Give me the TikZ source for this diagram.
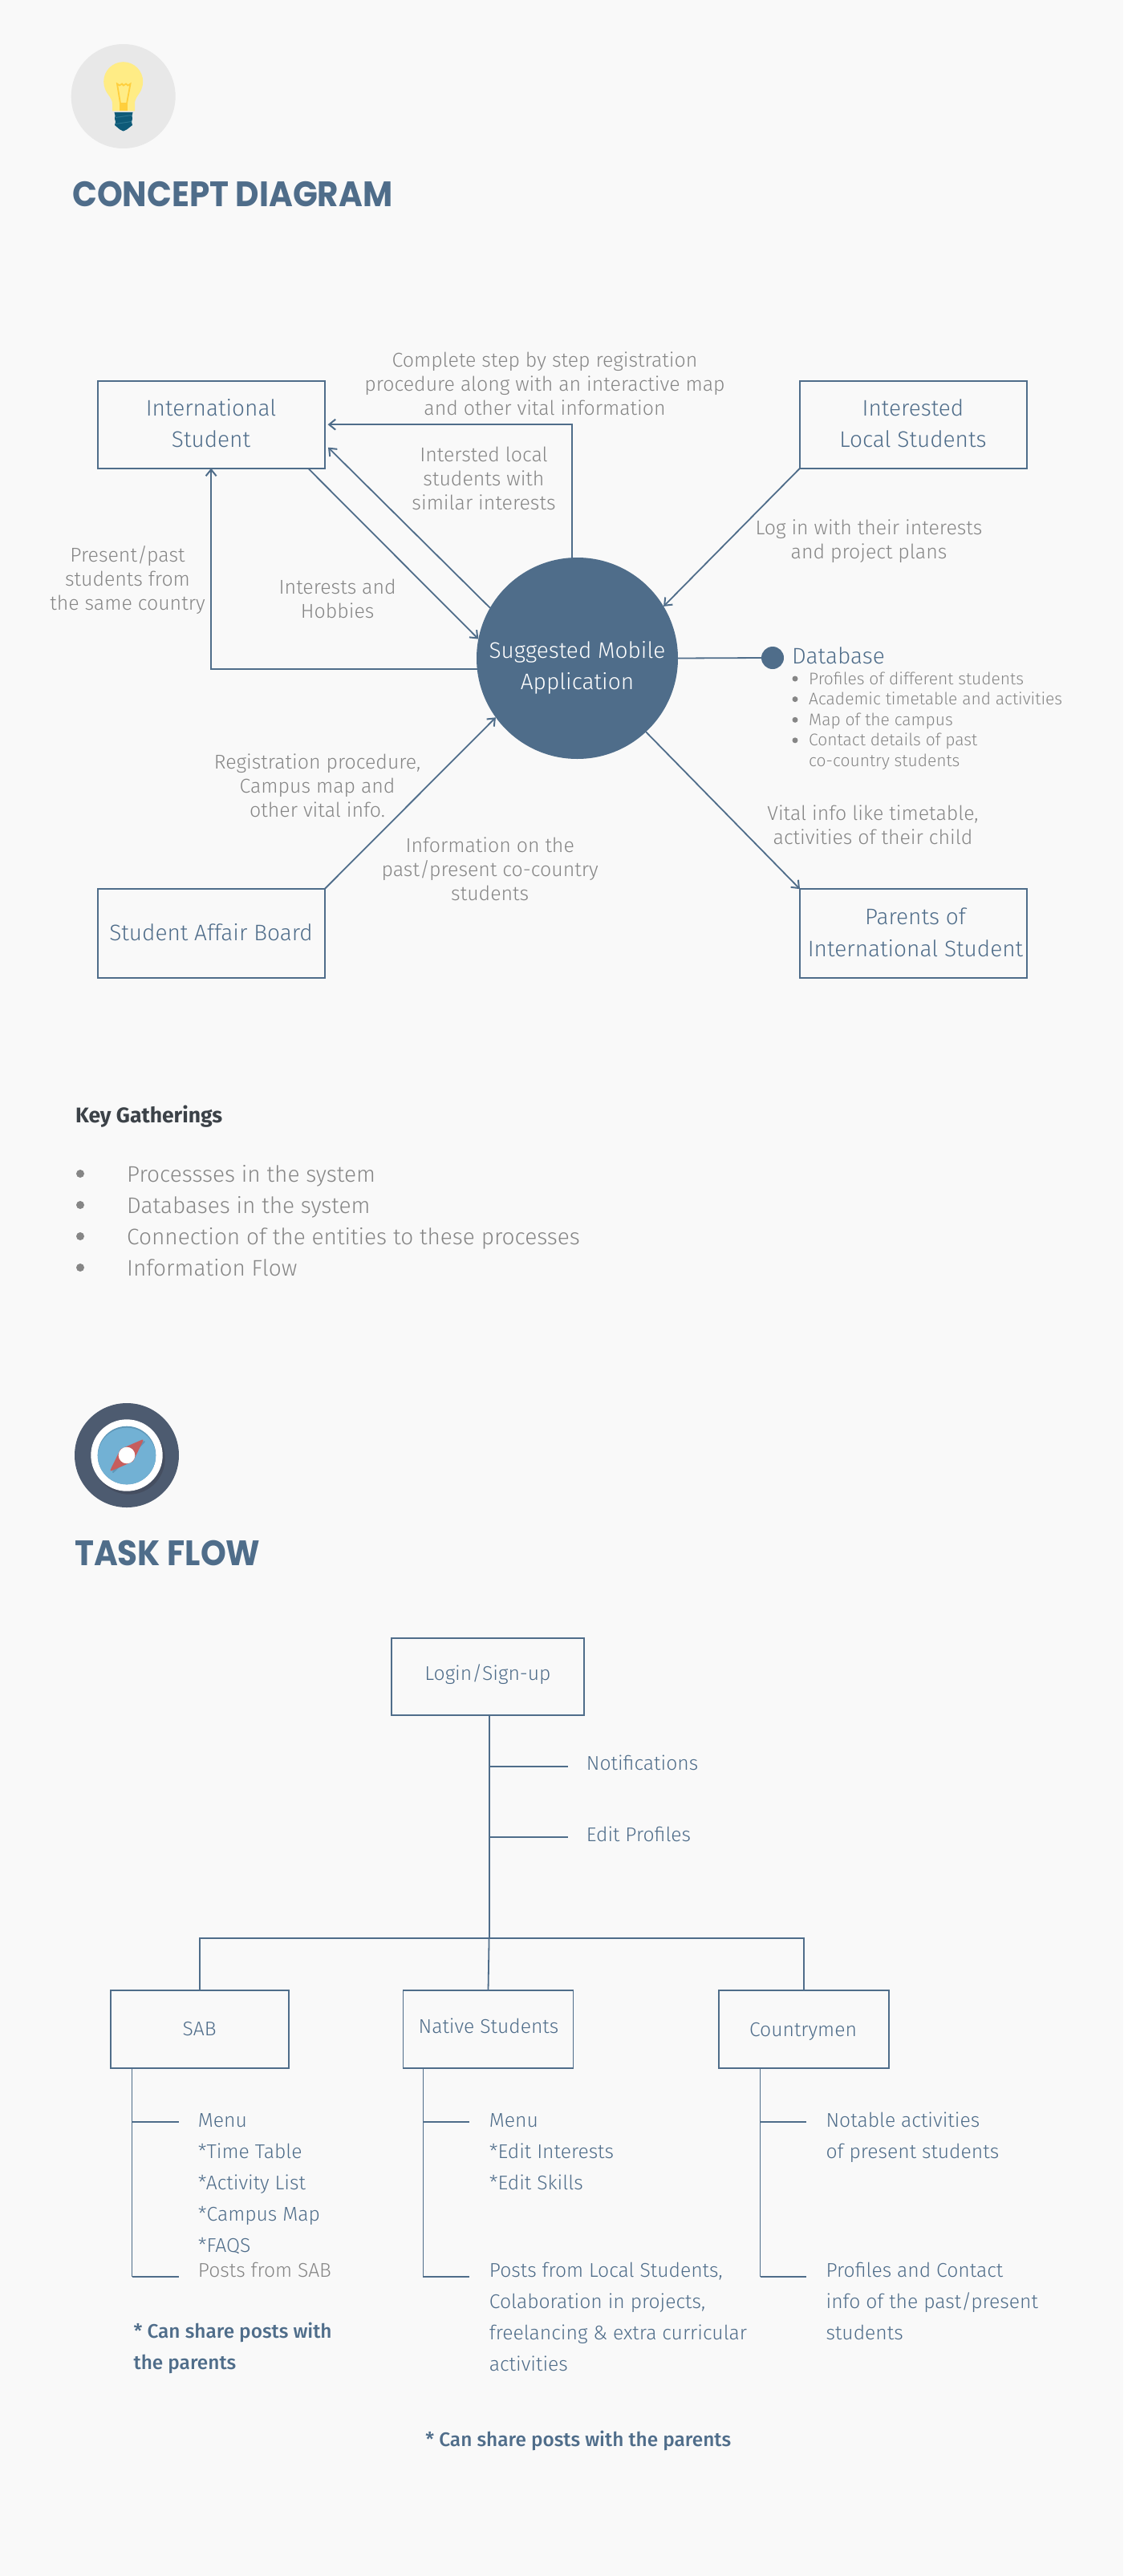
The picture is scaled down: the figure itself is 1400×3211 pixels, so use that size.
\documentclass[tikz,border=0pt]{standalone}
\usepackage{fontspec}
\usetikzlibrary{arrows.meta,calc}
\newfontfamily\din{Fira Sans Light}
\newfontfamily\dinb{Fira Sans Medium}
\newfontfamily\dinbb{Fira Sans}
\newfontfamily\ttl[FakeStretch=0.92]{Poppins}
\definecolor{bgc}{HTML}{F9F9F9}
\definecolor{blu}{HTML}{4F6D8A}
\definecolor{gry}{HTML}{868686}
\definecolor{ink}{HTML}{3C4248}
\definecolor{iconbg}{HTML}{E8E8E8}
\definecolor{glass}{HTML}{FFEC85}
\definecolor{filam}{HTML}{FFCF3D}
\definecolor{bulbbase}{HTML}{0E5A78}
\definecolor{bulbstripe}{HTML}{2A7590}
\definecolor{cdark}{HTML}{4D5B70}
\definecolor{cshadow}{HTML}{454E60}
\definecolor{cblue}{HTML}{72B1D4}
\definecolor{cblued}{HTML}{5E97B8}
\definecolor{cred}{HTML}{C65D5D}
\newcommand\stk[2]{\vtop{\baselineskip=#1pt\lineskiplimit=-1000pt\halign{\hfil##\hfil\cr #2\crcr}}}
\newcommand\stl[2]{\vtop{\baselineskip=#1pt\lineskiplimit=-1000pt\halign{##\hfil\cr #2\crcr}}}
\tikzset{
  conn/.style={draw=blu,line width=1.8pt},
  arr/.style={conn,-{Straight Barb[length=8pt,width=13pt,line width=2pt]}},
  bx/.style={draw=blu,line width=1.9pt,rectangle,inner sep=0pt,outer sep=0pt},
  lab/.style={text=gry,inner sep=0pt,anchor=base,font=\din\fontsize{24.9}{30}\selectfont},
  boxt/.style={text=blu,inner sep=0pt,anchor=base,font=\din\fontsize{28}{39}\selectfont},
  smalll/.style={text=gry,inner sep=0pt,anchor=base west,font=\din\fontsize{21}{25.6}\selectfont},
  keyl/.style={text=gry,inner sep=0pt,anchor=base west,font=\din\fontsize{28}{39}\selectfont},
  flow/.style={text=blu,inner sep=0pt,anchor=base west,font=\din\fontsize{24.7}{39}\selectfont},
  flowc/.style={flow,anchor=base},
  note/.style={flow,font=\dinb\fontsize{24.4}{39}\selectfont},
  keyh/.style={text=ink,inner sep=0pt,anchor=base west,font=\dinbb\bfseries\fontsize{26.5}{39}\selectfont},
  head/.style={text=blu,inner sep=0pt,anchor=base west,font=\ttl\bfseries\fontsize{44}{50}\selectfont},
  dotb/.style={circle,fill=gry,inner sep=0pt,minimum size=#1},
}
\begin{document}
\begin{tikzpicture}[x=1pt,y=-1pt]
\path[use as bounding box,fill=bgc] (0,0) rectangle (1400,3211);
% bulb icon
\fill[iconbg] (153.7,120) circle[radius=65];
\fill[glass] (153.7,101.7) circle[radius=24.5];
\fill[glass] (131.5,112) .. controls (135,120) and (140,122) .. (140,130) -- (140,138.3) -- (168,138.3) -- (168,130) .. controls (168,122) and (172,120) .. (176,112) -- cycle;
\draw[filam,line width=1.8pt] (146,104.5) -- (149,106.5) -- (152,104.5) -- (154,106.5) -- (157,104.5) -- (159.5,106.5) -- (162.5,104.5) -- (158,129) -- (150,129) -- cycle;
\fill[filam] (149,128) rectangle (159,138.3);
\fill[bulbbase] (142.5,140) -- (165.5,140) -- (164.5,144) -- (165,148) -- (164,152) -- (165,156) -- (158,161.5) -- (153.7,163.5) -- (149.5,161.5) -- (143,156) -- (144,152) -- (143,148) -- (143.5,144) -- cycle;
\draw[bulbstripe,line width=1pt] (144,146.5) -- (164,143.5) (144,154.5) -- (164,151.5);
\node[head] (title1) at (90,258) {CONCEPT DIAGRAM};
% concept diagram
\node[bx,minimum width=283,minimum height=109] (intl) at (263.1,529.2) {};
\node[bx,minimum width=283,minimum height=109] (local) at (1138.5,529.2) {};
\node[bx,minimum width=283,minimum height=110.5] (sab) at (263.1,1163.4) {};
\node[bx,minimum width=283,minimum height=110.5] (par) at (1138.5,1163.4) {};
\node[circle,fill=blu,draw=none,minimum size=251,inner sep=0pt,outer sep=0pt] (app) at (719.5,820.5) {};
\node[circle,fill=blu,minimum size=28,inner sep=0pt,outer sep=0pt] (db) at (963,820) {};
\node[boxt] at (263,518) {\stk{39}{International\cr Student}};
\node[boxt] at (1138,518) {\stk{39}{Interested\cr Local Students}};
\node[boxt] at (263,1172) {Student Affair Board};
\node[boxt] at (1141,1152) {\stk{40}{Parents of\cr International Student}};
\node[boxt,text=white] at (719.5,820.7) {\stk{38.5}{Suggested Mobile\cr Application}};
\coordinate (ia) at (409,557.7);
\coordinate (ib) at (384,583.7);
\draw[arr] (app.93) |- ([xshift=4pt]intl.east);
\draw[arr] (app.150.3) -- (ia);
\draw[arr] (ib) -- (app.169.5);
\draw[arr] (app.186.1) -| (intl.south);
\draw[arr] (local.south west) -- (app.31.1);
\draw[conn] (app.east) -- (db.west);
\draw[arr] (sab.north east) -- (app.216.3);
\draw[arr] (app.313.2) -- (par.north west);
\node[lab] at (679,457) {\stk{30}{Complete step by step registration\cr procedure along with an interactive map\cr and other vital information}};
\node[lab] at (603,575) {\stk{30}{Intersted local\cr students with\cr similar interests}};
\node[lab] at (159,700.7) {\stk{30}{Present/past\cr students from\cr the same country}};
\node[lab] at (420.7,740) {\stk{30}{Interests and\cr Hobbies}};
\node[lab] at (1083,666) {\stk{30}{Log in with their interests\cr and project plans}};
\node[lab] at (395.6,958) {\stk{30}{Registration procedure,\cr Campus map and\cr other vital info.}};
\node[lab] at (610.7,1062) {\stk{30}{Information on the\cr past/present co-country\cr students}};
\node[lab] at (1088,1022) {\stk{30}{Vital info like timetable,\cr activities of their child}};
\node[boxt,anchor=base west] at (987,827) {Database};
\node[smalll] at (1008,853) {\stl{25.6}{Profiles of different students\cr Academic timetable and activities\cr Map of the campus\cr Contact details of past\cr co-country students}};
\node[dotb=7] at (991,846) {};
\node[dotb=7] at (991,871.6) {};
\node[dotb=7] at (991,897.3) {};
\node[dotb=7] at (991,922.8) {};
% key gatherings
\node[keyh] at (94,1399.6) {Key Gatherings};
\node[dotb=10] at (100,1463) {};
\node[dotb=10] at (100,1502) {};
\node[dotb=10] at (100,1541) {};
\node[dotb=10] at (100,1580) {};
\node[keyl] at (158,1473) {\stl{39}{Processses in the system\cr Databases in the system\cr Connection of the entities to these processes\cr Information Flow}};
% compass
\fill[cdark] (158,1814) circle[radius=65];
\fill[cshadow] (161,1818) circle[radius=44.7];
\fill[white] (158,1814) circle[radius=44.7];
\fill[cblued] (158,1814) circle[radius=36.3];
\begin{scope}
\clip (158,1814) circle[radius=36.3];
\fill[cblue] (158,1816) circle[radius=36.3];
\end{scope}
\fill[cblued,draw=cblued,line width=2pt,line join=round] (180,1797) -- (167,1810) -- (141,1835) -- (150,1820) -- cycle;
\fill[cred,draw=cred,line width=2pt,line join=round] (177.5,1795.5) -- (165,1821) -- (138.5,1832.5) -- (151,1807) -- cycle;
\fill[white] (158,1814) circle[radius=10.3];
\node[head] (title2) at (93,1951) {TASK FLOW};
% task flow
\node[bx,minimum width=239.6,minimum height=96.6] (login) at (608.2,2090.1) {};
\node[flowc] at (608,2094.7) {Login/Sign-up};
\coordinate (hub) at (609.6,2416);
\coordinate (n1) at (609.6,2202);
\coordinate (n1e) at (707.8,2202);
\coordinate (n2) at (609.6,2289.7);
\coordinate (n2e) at (707.8,2289.7);
\node[bx,minimum width=222.4,minimum height=96.5] (bsab) at (248.8,2529.5) {};
\node[bx,minimum width=212,minimum height=96.5] (bnat) at (608.5,2529.5) {};
\node[bx,minimum width=212,minimum height=96.5] (bcou) at (1001.7,2529.5) {};
\draw[conn] (hub |- login.south) -- (hub);
\draw[conn] (n1) -- (n1e);
\draw[conn] (n2) -- (n2e);
\draw[conn] (bsab.north) |- (hub) -| (bcou.north);
\draw[conn] (hub) -- (bnat.north);
\node[flow] at (730.7,2206) {Notifications};
\node[flow] at (730.7,2295) {Edit Profiles};
\node[flowc] at (248.6,2537) {SAB};
\node[flowc] at (609,2534) {Native Students};
\node[flowc] at (1001,2538) {Countrymen};
% sub lines
\coordinate (s1) at (164.5,2578); \coordinate (s2) at (164.5,2645.3); \coordinate (s3) at (164.5,2838);
\coordinate (s2e) at (222.6,2645.3); \coordinate (s3e) at (222.6,2838);
\coordinate (t1) at (527.4,2578); \coordinate (t2) at (527.4,2645.3); \coordinate (t3) at (527.4,2838);
\coordinate (t2e) at (585,2645.3); \coordinate (t3e) at (585,2838);
\coordinate (u1) at (947.5,2578); \coordinate (u2) at (947.5,2645.3); \coordinate (u3) at (947.5,2838);
\coordinate (u2e) at (1004.9,2645.3); \coordinate (u3e) at (1004.9,2838);
\draw[conn] (s1) -- (s3) (s2) -- (s2e);
\draw[conn] (t1) -- (t3) (t2) -- (t2e);
\draw[conn] (u1) -- (u3) (u2) -- (u2e);
\draw[blu,line width=2.6pt] (s3) -- (s3e);
\draw[blu,line width=2.6pt] (t3) -- (t3e);
\draw[blu,line width=2.6pt] (u3) -- (u3e);
\node[flow] at (246.7,2651.4) {\stl{39}{Menu\cr *Time Table\cr *Activity List\cr *Campus Map\cr *FAQS}};
\node[flow,text=gry] at (246.7,2838) {Posts from SAB};
\node[note] at (166.4,2914.7) {\stl{39}{* Can share posts with\cr the parents}};
\node[flow] at (609.7,2651.4) {\stl{39}{Menu\cr *Edit Interests\cr *Edit Skills}};
\node[flow] at (609.7,2838) {\stl{39}{Posts from Local Students,\cr Colaboration in projects,\cr freelancing \& extra curricular\cr activities}};
\node[flow] at (1029.4,2651.4) {\stl{39}{Notable activities\cr of present students}};
\node[flow] at (1029.4,2838) {\stl{39}{Profiles and Contact\cr info of the past/present\cr students}};
\node[note] at (530.2,3049) {* Can share posts with the parents};
\end{tikzpicture}
\end{document}
